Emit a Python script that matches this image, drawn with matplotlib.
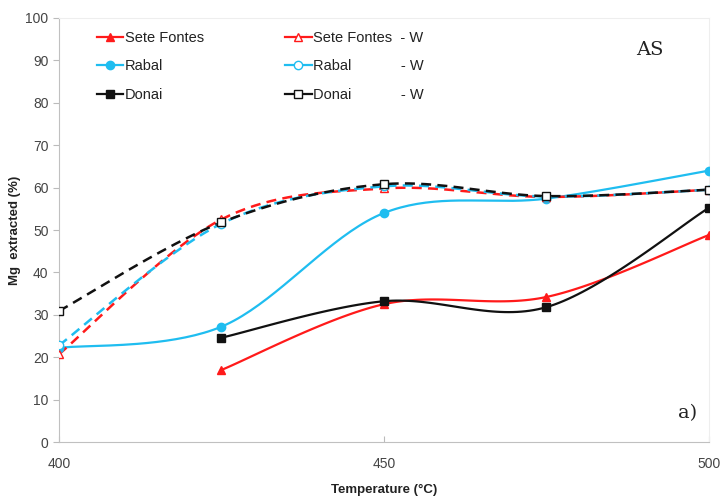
import matplotlib.pyplot as plt
import numpy as np

plt.rcParams['font.family'] = ['Liberation Sans', 'DejaVu Sans']

temps = [400, 425, 450, 475, 500]

sete_fontes = [None, 17.0, 32.5, 34.2, 48.8]
rabal = [22.2, 27.2, 54.0, 57.4, 64.0]
donai = [None, 24.6, 33.2, 31.8, 55.2]

sete_fontes_w = [20.7, 52.5, 59.8, 57.8, 59.5]
rabal_w = [22.8, 51.5, 60.3, 57.9, 59.5]
donai_w = [30.9, 51.8, 60.8, 58.0, 59.5]

RED = '#FF1A1A'
CYAN = '#1FBDF0'
BLACK = '#111111'


def smooth(xs, ys, n=40):
    # Excel-style smoothed line: cubic Bezier with control points from neighbours
    pts = [(x, y) for x, y in zip(xs, ys) if y is not None]
    p = np.array(pts, dtype=float)
    # work in axis-normalised units so the curve shape matches the screen
    scale = np.array([100.0 / 650, 100.0 / 424])
    q = p / scale
    out = [q[0]]
    for i in range(len(q) - 1):
        p0 = q[i - 1] if i > 0 else q[i]
        p1 = q[i]
        p2 = q[i + 1]
        p3 = q[i + 2] if i + 2 < len(q) else q[i + 1]
        c1 = p1 + (p2 - p0) / 6.0
        c2 = p2 - (p3 - p1) / 6.0
        t = np.linspace(0, 1, n)[1:, None]
        seg = ((1 - t) ** 3) * p1 + 3 * ((1 - t) ** 2) * t * c1 + 3 * (1 - t) * t ** 2 * c2 + t ** 3 * p2
        out.extend(seg)
    out = np.array(out) * scale
    return out[:, 0], out[:, 1], p[:, 0], p[:, 1]


fig = plt.figure(figsize=(7.21, 4.98), dpi=100)
ax = fig.add_axes([0.0818, 0.1124, 0.9012, 0.8515])

series = [
    ('Sete Fontes', sete_fontes, RED, '^', '-', True),
    ('Rabal', rabal, CYAN, 'o', '-', True),
    ('Donai', donai, BLACK, 's', '-', True),
    ('Sete Fontes  - W', sete_fontes_w, RED, '^', '--', False),
    ('Rabal            - W', rabal_w, CYAN, 'o', '--', False),
    ('Donai            - W', donai_w, BLACK, 's', '--', False),
]

handles = []
for label, vals, col, mk, ls, filled in series:
    sx, sy, px, py = smooth(temps, vals)
    if ls == '--':
        ax.plot(sx, sy, color=col, lw=1.8, ls=(0, (4, 2.5)), zorder=3)
    else:
        ax.plot(sx, sy, color=col, lw=1.6, zorder=3)
    ax.plot(px, py, ls='none', marker=mk, ms=6 if mk != 's' else 5.5,
            mfc=col if filled else 'white', mec=col, mew=1.0, zorder=4)
    h, = ax.plot([], [], color=col, lw=1.6, ls='-', marker=mk, ms=6,
                 mfc=col if filled else 'white', mec=col, mew=1.0, label=label)
    handles.append(h)

ax.set_xlim(400, 500)
ax.set_ylim(0, 100)
ax.set_xticks([400, 450, 500])
ax.set_yticks(range(0, 101, 10))
ax.tick_params(axis='both', colors='#BBBBBB', labelcolor='#444444', labelsize=10, length=4)
ax.tick_params(axis='x', direction='in', pad=11)

for side in ['left', 'bottom']:
    ax.spines[side].set_color('#C0C0C0')
for side in ['top', 'right']:
    ax.spines[side].set_color('#EEEEEE')

ax.set_xlabel('Temperature (\u00b0C)', fontsize=9.5, fontweight='bold', color='#222222', labelpad=9)
ax.set_ylabel('Mg  extracted (%)', fontsize=9.5, fontweight='bold', color='#222222', labelpad=3)

leg = ax.legend(handles=handles, ncol=2, loc='upper left', bbox_to_anchor=(0.038, 1.0),
                frameon=False, fontsize=10.5, handlelength=1.8, handletextpad=0.1,
                columnspacing=5.6, labelspacing=0.98)
for t in leg.get_texts():
    t.set_color('#222222')

ax.text(0.91, 0.925, 'AS', transform=ax.transAxes, fontsize=14, family='DejaVu Serif',
        ha='center', va='center', color='#222222')
ax.text(0.968, 0.068, 'a)', transform=ax.transAxes, fontsize=14, family='DejaVu Serif',
        ha='center', va='center', color='#222222')

fig.savefig('out.png', dpi=100)
